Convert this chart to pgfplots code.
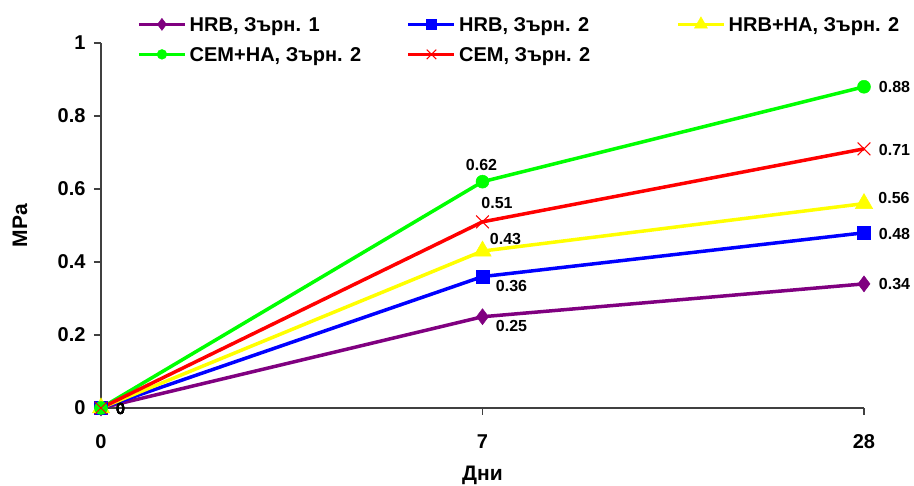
\documentclass[border=0pt]{standalone}
\usepackage{fontspec}
\setmainfont{Liberation Sans}
\usepackage{pgfplots}
\pgfplotsset{compat=1.18}

\definecolor{cpurple}{RGB}{128,0,128}
\definecolor{cblue}{RGB}{0,0,255}
\definecolor{cyellow}{RGB}{255,255,0}
\definecolor{cgreen}{RGB}{0,255,0}
\definecolor{cred}{RGB}{255,0,0}

\begin{document}
\begin{tikzpicture}
\path[use as bounding box] (-101pt,-78pt) rectangle (813pt,408pt);
\begin{axis}[
    at={(0pt,0pt)}, anchor=south west,
    scale only axis, width=763pt, height=365pt,
    xmin=0, xmax=2, ymin=0, ymax=1,
    xtick={0,1,2}, xticklabels={0,7,28},
    ytick={0,0.2,0.4,0.6,0.8,1},
    axis lines*=left,
    axis line style={black!75, line width=1.2pt},
    tick style={black!75, line width=1.2pt},
    tick align=outside,
    major tick length=7pt,
    clip=false,
    /pgf/number format/assume math mode=true,
    tick label style={font=\fontsize{20}{24}\selectfont\bfseries},
    xticklabel style={yshift=-16pt},
    yticklabel style={xshift=-5pt},
    xlabel={Дни}, ylabel={MPa},
    label style={font=\fontsize{21}{25}\selectfont\bfseries},
    xlabel style={at={(axis description cs:0.5,-0.184)}, anchor=center},
    ylabel style={at={(axis description cs:-0.106,0.5)}, anchor=center},
    legend columns=3,
    legend cell align=left,
    legend style={at={(axis description cs:0.0472,1.0762)}, anchor=north west,
        draw=none, fill=none, inner sep=0pt, row sep=12pt, column sep=3pt,
        font=\fontsize{20}{24}\selectfont\bfseries,
        nodes={inner sep=0pt, text height=16pt, text depth=2pt}},
    legend image code/.code={\draw[mark repeat=2, mark phase=2, #1,
        every mark/.append style={scale=0.75}]
        plot coordinates {(0pt,0pt) (23pt,0pt) (46pt,0pt)};},
    every axis plot/.append style={line width=3.5pt},
    point meta=explicit symbolic,
    nodes near coords,
    visualization depends on={\thisrow{dx}\as\dx},
    visualization depends on={\thisrow{dy}\as\dy},
    every node near coord/.append style={font=\fontsize{16}{19}\selectfont\bfseries,
        text=black, anchor=center, inner sep=0pt, xshift=\dx pt, yshift=\dy pt},
]

% HRB, Zarn. 1
\addplot[cpurple, mark=diamond*, mark size=8pt,
    mark options={solid, fill=cpurple, draw=cpurple, line width=0.5pt}]
    table[meta=lab] {
x y lab dx dy
0 0 0 19.5 -1
1 0.25 0.25 29 -9
2 0.34 0.34 30.5 0
};
\addlegendentry{\makebox[214pt][l]{HRB, Зърн. 1}}

% HRB, Zarn. 2
\addplot[cblue, mark=square*, mark size=6.5pt,
    mark options={solid, fill=cblue, draw=cblue, line width=0.5pt}]
    table[meta=lab] {
x y lab dx dy
0 0 0 19.5 -1
1 0.36 0.36 29 -9.4
2 0.48 0.48 30.5 -1
};
\addlegendentry{\makebox[214pt][l]{HRB, Зърн. 2}}

% HRB+HA, Zarn. 2
\addplot[cyellow, mark=triangle*, mark size=10pt,
    mark options={solid, fill=cyellow, draw=cyellow, line width=0.5pt}]
    table[meta=lab] {
x y lab dx dy
0 0 0 19.5 -1
1 0.43 0.43 23 12
2 0.56 0.56 30 5.6
};
\addlegendentry{\makebox[214pt][l]{HRB+HA, Зърн. 2}}

% CEM+HA, Zarn. 2
\addplot[cgreen, mark=*, mark size=6.5pt,
    mark options={solid, fill=cgreen, draw=cgreen, line width=0.5pt}]
    table[meta=lab] {
x y lab dx dy
0 0 0 19.5 -1
1 0.62 0.62 -1 16.7
2 0.88 0.88 30.5 0
};
\addlegendentry{\makebox[214pt][l]{CEM+HA, Зърн. 2}}

% CEM, Zarn. 2
\addplot[cred, mark=x, mark size=9pt,
    mark options={solid, draw=cred, line width=1pt}]
    table[meta=lab] {
x y lab dx dy
0 0 0 19.5 -1
1 0.51 0.51 14.5 19
2 0.71 0.71 30.5 -1
};
\addlegendentry{\makebox[214pt][l]{CEM, Зърн. 2}}

\end{axis}
\end{tikzpicture}
\end{document}
